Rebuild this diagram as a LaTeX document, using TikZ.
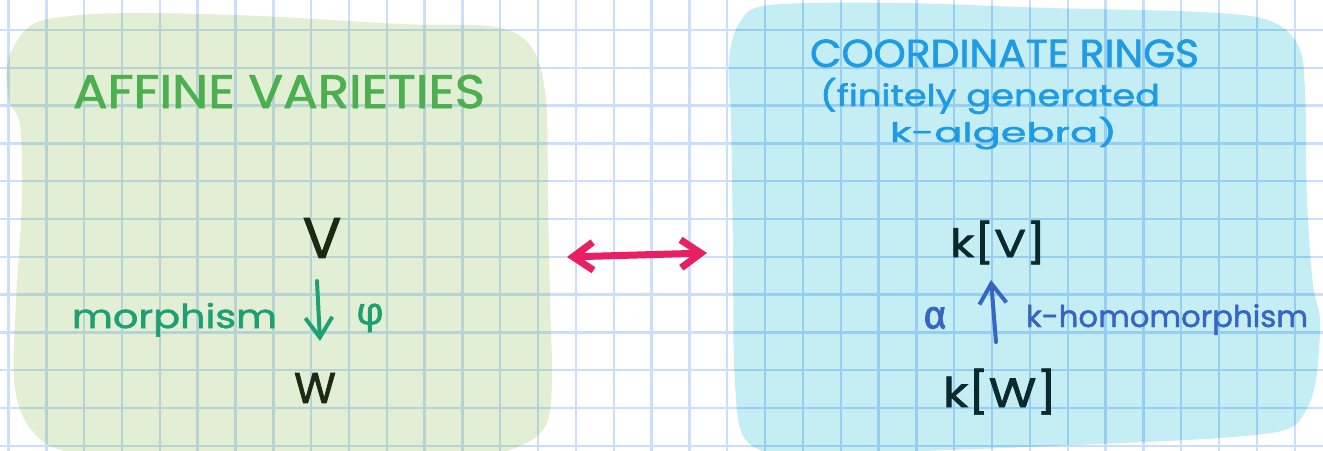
\documentclass[tikz,border=0pt]{standalone}
\usepackage{fontspec}
\usepackage{graphicx}
\usetikzlibrary{arrows.meta}
\newfontfamily\hand{Poppins}[FakeBold=1.6]
\newfontfamily\greekhand{Fira Sans}[FakeBold=1.6]
\definecolor{gridwhite}{RGB}{203,223,251}
\definecolor{gridgreen}{RGB}{184,211,212}
\definecolor{gridcyan}{RGB}{150,206,242}
\definecolor{blobgreen}{RGB}{227,239,212}
\definecolor{blobcyan}{RGB}{197,238,244}
\definecolor{titlegreen}{RGB}{76,175,80}
\definecolor{tealink}{RGB}{30,160,115}
\definecolor{darkink}{RGB}{27,42,20}
\definecolor{darkteal}{RGB}{11,42,45}
\definecolor{blueink}{RGB}{52,102,194}
\definecolor{cyanink}{RGB}{31,155,230}
\definecolor{magentaink}{RGB}{233,30,99}
\def\greenblob{plot[smooth cycle, tension=0.55] coordinates {(70,16) (140,13) (260,16) (400,24) (495,27) (532,48) (546,100) (548,200) (550,300) (552,380) (546,425) (520,446) (470,456) (300,458) (120,458) (55,448) (26,422) (14,380) (16,300) (22,200) (20,125) (9,100) (8,60) (30,26)}}
\def\cyanblob{plot[smooth cycle, tension=0.55] coordinates {(770,5) (900,3) (1050,8) (1200,12) (1268,20) (1298,45) (1305,90) (1307,200) (1313,285) (1320,320) (1316,380) (1305,412) (1285,430) (1220,438) (1100,444) (950,450) (800,455) (760,450) (740,428) (734,360) (733,250) (731,120) (729,60) (740,22)}}
\tikzset{
  gridline/.style={line width=2.4pt},
  lbl/.style={inner sep=0pt, outer sep=0pt},
}
\newcommand{\drawgrid}[1]{%
  \foreach \i in {0,...,34} \draw[gridline,#1] ({8.5+37.83*\i},-5) -- ++(0,465);
  \foreach \j in {0,...,11} \draw[gridline,#1] (-5,{30+37.8*\j}) -- ++(1335,0);
}
\begin{document}
\begin{tikzpicture}[x=1pt,y=-1pt]
\useasboundingbox (0,0) rectangle (1323,450);
\fill[white] (0,0) rectangle (1323,450);
\begin{scope}
\clip (0,0) rectangle (1323,450);
\drawgrid{gridwhite}
\fill[blobgreen] \greenblob;
\fill[blobcyan] \cyanblob;
\begin{scope}
\clip \greenblob;
\drawgrid{gridgreen}
\end{scope}
\begin{scope}
\clip \cyanblob;
\drawgrid{gridcyan}
\end{scope}
\end{scope}

% left panel
\node[lbl, anchor=base west, text=titlegreen, font=\hand\fontsize{47}{50}\selectfont] (affine) at (73,108) {\resizebox{412pt}{\height}{AFFINE VARIETIES}};
\node[lbl, text=darkink, font=\hand\fontsize{57}{60}\selectfont] (V) at (322,238) {V};
\node[lbl, text=darkink, font=\hand\fontsize{43}{46}\selectfont] (W) at (315,388) {W};
\node[lbl, anchor=base west, text=tealink, font=\hand\fontsize{33}{36}\selectfont] (morph) at (72,328) {\resizebox{205pt}{\height}{morphism}};
\node[lbl, text=tealink, font=\greekhand\fontsize{38}{40}\selectfont] (phi) at (370,318) {φ};
\coordinate (dtop) at (317,281);
\coordinate (dbot) at (320,341);
\draw[tealink, line width=4pt, line cap=round, -{Straight Barb[length=20pt,width=27pt]}] (dtop) -- (dbot);

% middle arrow
\coordinate (la) at (567,257);
\coordinate (ra) at (707,253);
\draw[magentaink, line width=7pt, line cap=round, {Straight Barb[length=20pt,width=28pt]}-{Straight Barb[length=20pt,width=28pt]}] (la) -- (ra);

% right panel
\node[lbl, anchor=base west, text=cyanink, font=\hand\fontsize{39}{42}\selectfont] (coord) at (810,67) {\resizebox{389pt}{\height}{COORDINATE RINGS}};
\node[lbl, anchor=base west, text=cyanink, font=\hand\fontsize{30}{33}\selectfont] (fin) at (820,106) {\resizebox{340pt}{\height}{(finitely generated}};
\node[lbl, anchor=base west, text=cyanink, font=\hand\fontsize{27}{30}\selectfont] (kalg) at (890,142) {\resizebox{227pt}{\height}{k-algebra)}};
\node[lbl, anchor=base west, text=darkteal, font=\hand\fontsize{39}{42}\selectfont] (kV) at (950,257) {\resizebox{96pt}{\height}{k[V]}};
\node[lbl, anchor=base west, text=darkteal, font=\hand\fontsize{41}{44}\selectfont] (kW) at (943,407) {\resizebox{114pt}{\height}{k[W]}};
\node[lbl, text=blueink, font=\greekhand\fontsize{40}{42}\selectfont] (alpha) at (935,318) {α};
\node[lbl, anchor=base west, text=blueink, font=\hand\fontsize{30}{33}\selectfont] (khom) at (1026,327) {\resizebox{282pt}{\height}{k-homomorphism}};
\coordinate (ubot) at (996,342);
\coordinate (utop) at (991,280);
\draw[blueink, line width=4pt, line cap=round, -{Straight Barb[length=20pt,width=27pt]}] (ubot) -- (utop);
\end{tikzpicture}
\end{document}
